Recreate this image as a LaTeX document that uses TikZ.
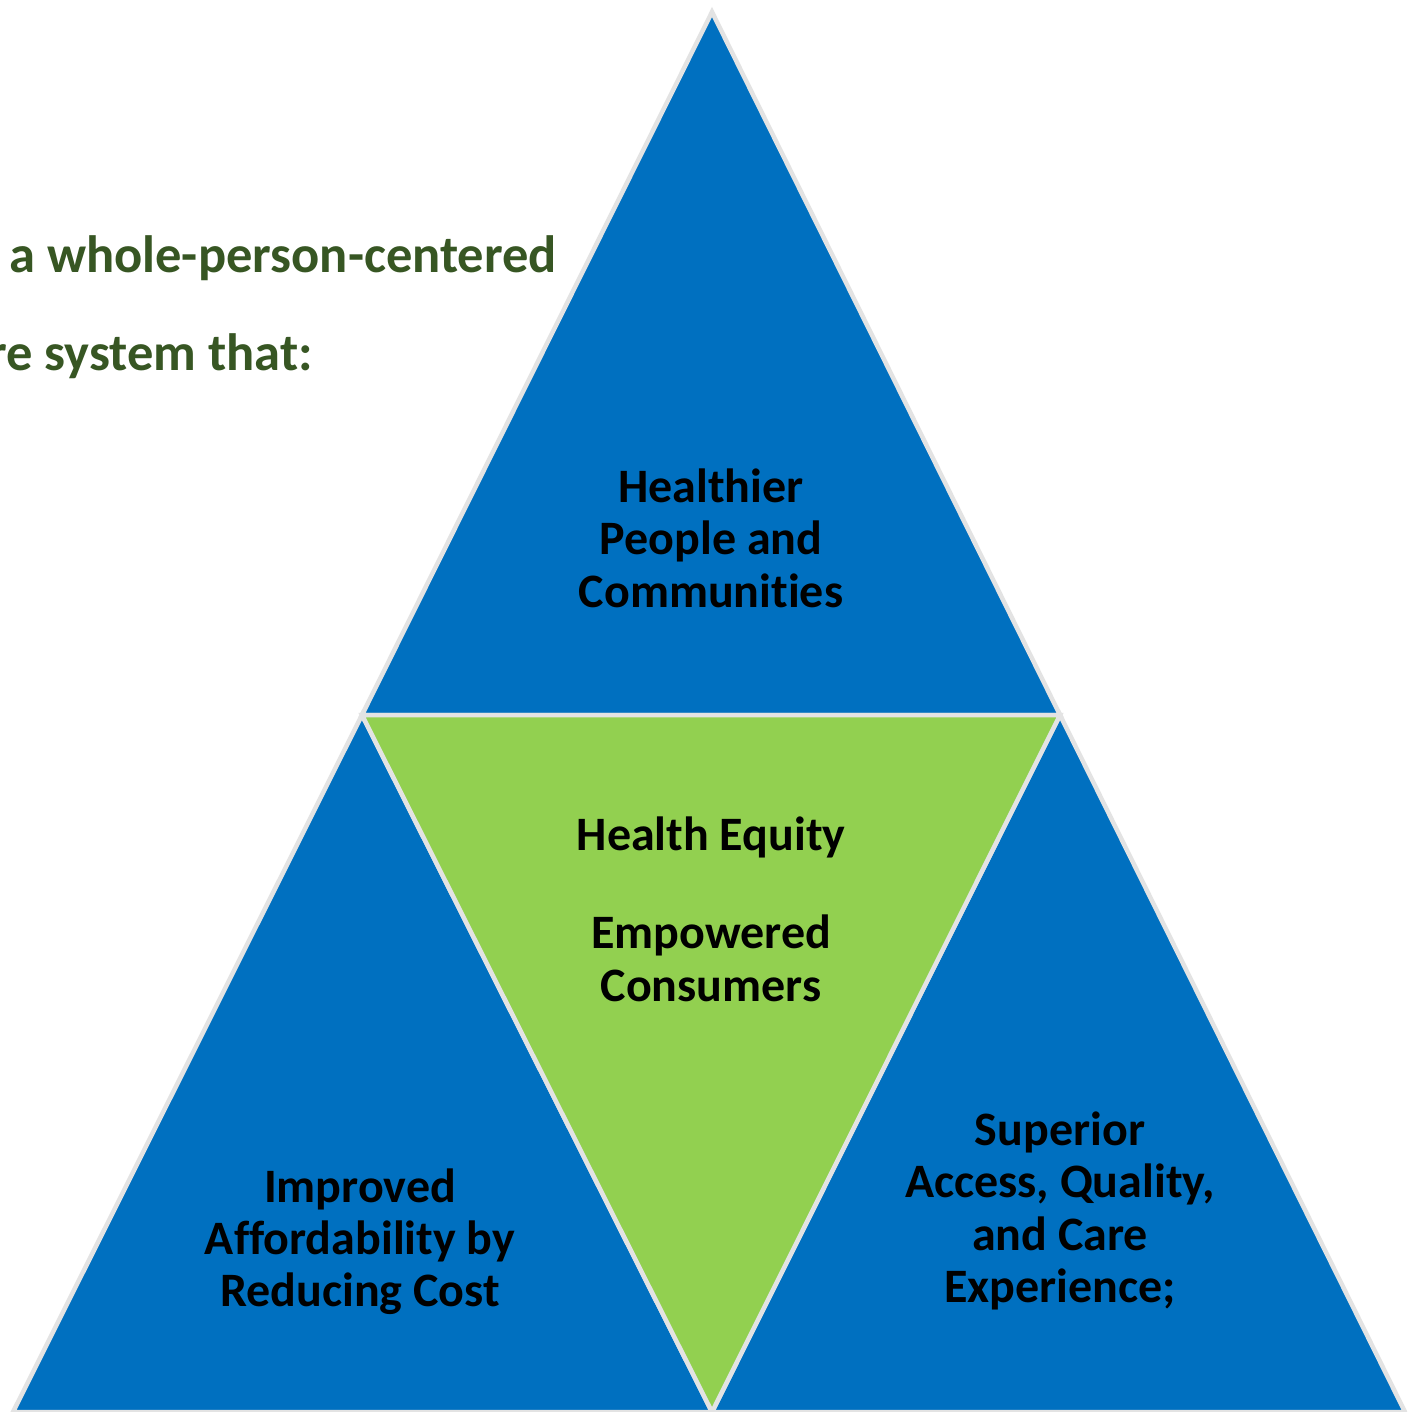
\documentclass[tikz,border=0pt]{standalone}
\usepackage{fontspec}
\setmainfont{Carlito}[Ligatures={NoCommon}]
\definecolor{triblue}{HTML}{0070C0}
\definecolor{trigreen}{HTML}{92D050}
\definecolor{titlegreen}{HTML}{375623}
\definecolor{edgegray}{HTML}{E3E3E3}
\tikzset{
  tri/.style={draw=edgegray, line width=4.5pt, line join=miter},
  bluetri/.style={tri, fill=triblue},
  greentri/.style={tri, fill=trigreen},
  body/.style={font=\fontsize{48}{54}\selectfont\bfseries, text=black, anchor=base, inner sep=0pt},
  titletext/.style={font=\fontsize{52.5}{58}\selectfont\bfseries, text=titlegreen, anchor=base east, inner sep=0pt}
}
\begin{document}
\begin{tikzpicture}[x=1pt,y=-1pt]
\useasboundingbox (0,0) rectangle (1407,1412);
\clip (0,0) rectangle (1407,1412);
\fill[white] (0,0) rectangle (1407,1412);
% vertices
\coordinate (A) at (712,12);
\coordinate (B) at (362,715);
\coordinate (C) at (1060,715);
\coordinate (D) at (712,1412);
\coordinate (E) at (13,1412);
\coordinate (F) at (1405,1412);
% triangles
\draw[bluetri] (A) -- (B) -- (C) -- cycle;
\draw[bluetri] (B) -- (E) -- (D) -- cycle;
\draw[bluetri] (C) -- (D) -- (F) -- cycle;
\draw[greentri] (B) -- (C) -- (D) -- cycle;
% title
\node[titletext] (t1) at (557,273) {a whole-person-centered};
\node[titletext] (t2) at (313,370) {re system that:};
% top
\node[body] (h1) at (711,502) {Healthier};
\node[body] (h2) at (711,554) {People and};
\node[body] (h3) at (711,607) {Communities};
% centre
\node[body] (g1) at (711,850) {Health Equity};
\node[body] (g2) at (711,948) {Empowered};
\node[body] (g3) at (711,1001) {Consumers};
% left
\node[body] (l1) at (360,1202) {Improved};
\node[body] (l2) at (360,1254) {Affordability by};
\node[body] (l3) at (360,1306) {Reducing Cost};
% right
\node[body] (r1) at (1060,1145) {Superior};
\node[body] (r2) at (1060,1197) {Access, Quality,};
\node[body] (r3) at (1060,1250) {and Care};
\node[body] (r4) at (1060,1302) {Experience;};
\end{tikzpicture}
\end{document}
